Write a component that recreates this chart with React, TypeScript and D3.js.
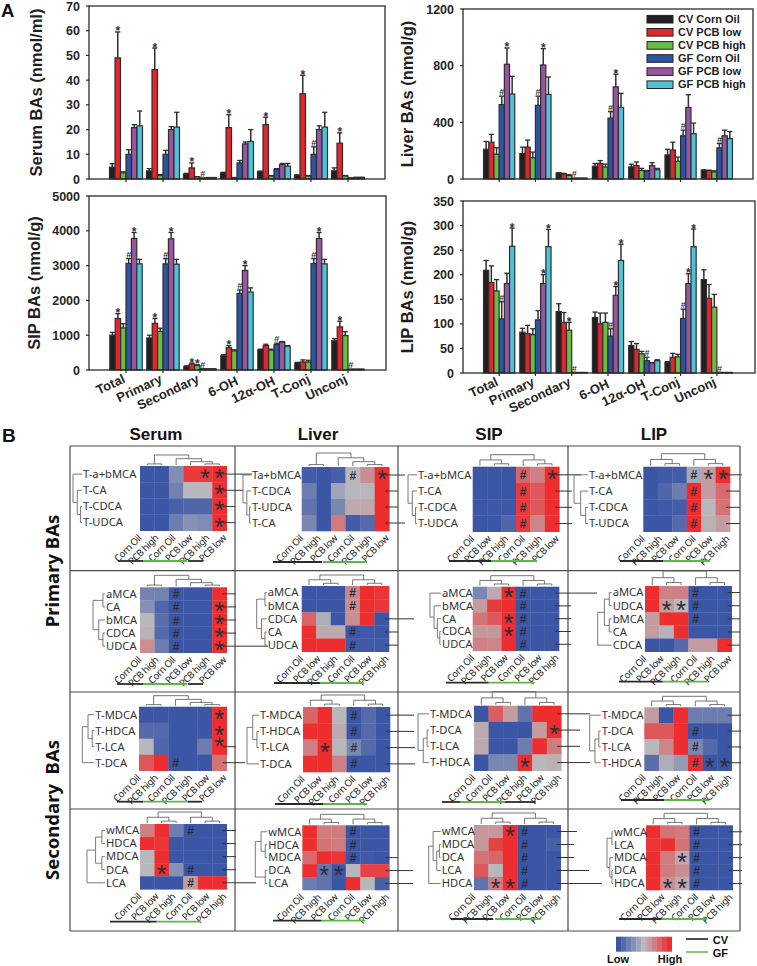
import React from "react";
import * as d3 from "d3";

const W = 757, H = 966;
const FONT = "'Liberation Sans', Arial, sans-serif";
const HEATFONT = "'Noto Sans', sans-serif";

// ---------- Panel A data ----------
const categories = ["Total", "Primary", "Secondary", "6-OH", "12α-OH", "T-Conj", "Unconj"];
const seriesNames = ["CV Corn Oil", "CV PCB low", "CV PCB high", "GF Corn Oil", "GF PCB low", "GF PCB high"];
const seriesColors = ["#231f20", "#e3262b", "#69bd45", "#2d55a5", "#97569f", "#4ec3d8"];

const serumValues = [[4.8,49,2.5,10,20.8,21.5],[3.3,44.3,1.4,10,20,21],[2,4.5,0.8,0.3,0.5,0.5],[2.5,20.8,0.5,6.5,14.2,15.2],[3,22,1.2,3.8,5.8,5.2],[1.5,34.5,1.2,10,20,21],[3.3,14.5,1.2,0.4,0.6,0.6]];
const serumTops = [[6.2,59.5,2.9,11.8,22,27.5],[4.2,53,1.8,11.6,21.2,27],[2.3,6.5,0.9,0.4,0.6,0.6],[2.7,26,0.6,7.5,15,20],[3.2,25,1.4,4.2,6.3,6.3],[1.7,42,1.4,13,21.5,27],[4.5,18.7,1.4,0.5,0.7,0.7]];
const serumMarks: [number,number,string][] = [[0,1,"*"],[1,1,"*"],[2,1,"*"],[3,1,"*"],[4,1,"*"],[5,1,"*"],[6,1,"*"],[2,3,"#"],[5,3,"#"]];

const liverValues = [[210,260,175,525,810,600],[180,225,150,520,805,597],[40,35,25,5,5,5],[90,110,85,430,650,505],[85,95,60,55,95,65],[170,205,125,305,505,320],[60,60,50,220,305,285]];
const liverTops = [[265,315,220,585,925,725],[225,275,190,585,920,720],[45,40,30,6,6,6],[110,130,105,475,740,605],[105,120,75,60,115,75],[210,260,155,345,595,395],[65,62,58,250,345,335]];
const liverMarks: [number,number,string][] = [[0,4,"*"],[1,4,"*"],[3,4,"*"],[0,3,"#"],[1,3,"#"],[2,3,"#"],[3,3,"#"],[5,3,"#"],[6,3,"#"]];

const sipValues = [[1000,1480,1210,3060,3780,3050],[920,1340,1110,3050,3770,3040],[100,170,130,30,30,30],[410,640,550,2200,2860,2240],[580,700,570,730,800,680],[200,230,230,3060,3780,3050],[840,1240,990,20,20,20]];
const sipTops = [[1080,1620,1330,3200,3950,3180],[1000,1480,1200,3200,3950,3180],[120,200,150,35,35,35],[440,700,580,2300,3000,2360],[600,740,600,770,820,700],[220,290,280,3200,3950,3180],[900,1400,1100,25,25,25]];
const sipMarks: [number,number,string][] = [[0,1,"*"],[1,1,"*"],[2,1,"*"],[2,2,"*"],[3,1,"*"],[0,4,"*"],[1,4,"*"],[3,4,"*"],[5,4,"*"],[6,1,"*"],[0,3,"#"],[1,3,"#"],[2,3,"#"],[3,3,"#"],[4,3,"#"],[5,3,"#"],[6,3,"#"]];

const lipValues = [[209,184,167,110,182,258],[83,80,78,108,182,257],[125,103,87,1,1,1],[113,100,103,75,158,229],[56,48,39,25,20,25],[22,32,33,111,182,257],[190,152,134,1,1,1]];
const lipTops = [[229,218,190,145,203,295],[91,97,90,127,200,292],[141,123,103,1,1,1],[124,122,122,90,176,262],[64,60,44,32,21,27],[23,40,38,130,202,293],[210,180,160,1,1,1]];
const lipMarks: [number,number,string][] = [[0,5,"*"],[1,4,"*"],[1,5,"*"],[2,2,"*"],[3,4,"*"],[3,5,"*"],[5,4,"*"],[5,5,"*"],[0,3,"#"],[2,3,"#"],[3,3,"#"],[4,3,"#"],[5,3,"#"],[6,3,"#"]];

const serumTicks = [0,10,20,30,40,50,60,70];
const liverTicks = [0,400,800,1200];
const sipTicks = [0,1000,2000,3000,4000,5000];
const lipTicks = [0,50,100,150,200,250,300,350];

// ---------- Panel B data ----------
const CO = "Corn Oil", PL = "PCB low", PH = "PCB high";
type Tree = number | Tree[];
type Mark = [number, number, string];

const h1Rows = ["T-a+bMCA","T-CA","T-CDCA","T-UDCA"];
const h1Cols = [CO,PH,CO,PL,PH,PL];
const h1Vals = [[0,0,.28,.95,.95,1],[0,0,.22,.5,.5,1],[0,0,.05,.08,.08,1],[0,0,.2,.3,.27,1]];
const h1Marks: Mark[] = [[0,4,"*"],[0,5,"*"],[1,5,"*"],[2,5,"*"],[3,5,"*"]];
const h2Rows = ["Ta+bMCA","T-CDCA","T-UDCA","T-CA"];
const h2Cols = [CO,PH,PL,CO,PH,PL];
const h2Vals = [[.03,0,.05,.5,.65,1],[.2,0,.4,.5,.5,1],[.15,0,.25,.55,.55,1],[.25,0,.72,.03,.1,1]];
const h2Marks: Mark[] = [[0,3,"#"],[0,5,"*"]];
const h3Rows = ["T-a+bMCA","T-CA","T-CDCA","T-UDCA"];
const h3Cols = [CO,PL,PH,CO,PH,PL];
const h3Vals = [[0,0,0,.8,.7,1],[0,0,0,.95,.85,1],[0,.01,.01,.95,.85,1],[0,0,.08,.95,.68,1]];
const h3Marks: Mark[] = [[0,3,"#"],[1,3,"#"],[2,3,"#"],[3,3,"#"],[0,5,"*"]];
const h4Rows = ["T-a+bMCA","T-CA","T-CDCA","T-UDCA"];
const h4Cols = [CO,PH,PL,CO,PL,PH];
const h4Vals = [[0,.02,.03,.42,.6,1],[0,.08,.2,1,.6,.78],[0,.02,.03,1,.5,.75],[0,0,.1,1,.53,.6]];
const h4Marks: Mark[] = [[0,3,"#"],[1,3,"#"],[2,3,"#"],[3,3,"#"],[0,4,"*"],[0,5,"*"]];

const h5Rows = ["aMCA","CA","bMCA","CDCA","UDCA"];
const h5Cols = [CO,PH,CO,PL,PH,PL];
const h5Vals = [[.22,.22,0,0,0,1],[.3,.08,0,0,0,1],[.5,.12,0,0,0,1],[.53,.1,0,0,0,1],[.65,.2,0,0,0,1]];
const h5Marks: Mark[] = [[0,2,"#"],[1,2,"#"],[2,2,"#"],[3,2,"#"],[4,2,"#"],[1,5,"*"],[2,5,"*"],[3,5,"*"],[4,5,"*"]];
const h6Rows = ["aMCA","bMCA","CDCA","CA","UDCA"];
const h6Cols = [CO,PL,PH,CO,PL,PH];
const h6Vals = [[0,0,0,.68,1,.97],[0,0,0,.65,1,.97],[.8,.45,0,.65,1,0],[1,.55,.55,0,.02,0],[1,1,1,.03,.02,.02]];
const h6Marks: Mark[] = [[0,3,"#"],[1,3,"#"],[3,3,"#"],[4,3,"#"]];
const h7Rows = ["aMCA","bMCA","CA","CDCA","UDCA"];
const h7Cols = [CO,PH,PL,CO,PL,PH];
const h7Vals = [[.25,.55,1,0,0,0],[.6,.95,1,0,0,0],[.75,.85,1,0,0,0],[.62,.62,1,0,0,0],[.7,.68,1,0,0,0]];
const h7Marks: Mark[] = [[0,2,"*"],[2,2,"*"],[3,2,"*"],[0,3,"#"],[1,3,"#"],[2,3,"#"],[3,3,"#"],[4,3,"#"]];
const h8Rows = ["aMCA","UDCA","bMCA","CA","CDCA"];
const h8Cols = [CO,PL,PH,CO,PH,PL];
const h8Vals = [[1,.7,.7,0,0,0],[1,.6,.5,0,0,0],[.6,1,1,0,0,0],[.6,.48,1,0,0,0],[0,0,.1,.6,.6,1]];
const h8Marks: Mark[] = [[1,1,"*"],[1,2,"*"],[0,3,"#"],[1,3,"#"],[2,3,"#"]];

const h9Rows = ["T-MDCA","T-HDCA","T-LCA","T-DCA"];
const h9Cols = [CO,PH,CO,PH,PL,PL];
const h9Vals = [[0,0,0,0,0,1],[.1,.1,0,0,0,1],[.5,.08,0,0,.2,1],[.85,1,0,0,0,.75]];
const h9Marks: Mark[] = [[0,5,"*"],[1,5,"*"],[1.7,5,"*"],[3,2,"#"]];
const h10Rows = ["T-MDCA","T-HDCA","T-LCA","T-DCA"];
const h10Cols = [CO,PL,PH,CO,PL,PH];
const h10Vals = [[.8,1,.5,0,.1,0],[1,1,.55,0,.1,0],[.7,1,.5,.25,.1,0],[1,1,.7,0,0,0]];
const h10Marks: Mark[] = [[2,1,"*"],[0,3,"#"],[1,3,"#"],[2,3,"#"],[3,3,"#"]];
const h11Rows = ["T-MDCA","T-DCA","T-LCA","T-HDCA"];
const h11Cols = [CO,CO,PL,PH,PL,PH];
const h11Vals = [[0,.82,.6,.15,1,1],[.55,0,0,0,.6,1],[.55,0,0,.2,1,.72],[0,.25,.25,1,.5,.53]];
const h11Marks: Mark[] = [[1,5,"*"],[3,3,"*"]];
const h12Rows = ["T-MDCA","T-DCA","T-LCA","T-HDCA"];
const h12Cols = [CO,PH,PL,CO,PL,PH];
const h12Vals = [[.6,0,1,.2,.2,.2],[.85,.85,1,0,0,0],[.5,.68,1,.25,.1,0],[.12,.45,.35,1,0,0]];
const h12Marks: Mark[] = [[1,3,"#"],[2,3,"#"],[3,3,"#"],[3,4,"*"],[3,5,"*"]];

const h13Rows = ["wMCA","HDCA","MDCA","DCA","LCA"];
const h13Cols = [CO,PL,PH,CO,PL,PH];
const h13Vals = [[.7,1,.2,0,0,0],[1,.97,0,0,0,0],[.5,1,0,0,0,0],[.5,1,.3,0,0,0],[0,0,0,.6,1,1]];
const h13Marks: Mark[] = [[0,3,"#"],[3,3,"#"],[4,3,"#"],[3,1,"*"]];
const h14Rows = ["wMCA","HDCA","MDCA","DCA","LCA"];
const h14Cols = [CO,PH,PL,CO,PL,PH];
const h14Vals = [[1,.72,.72,0,0,0],[1,.75,.72,0,0,0],[.78,1,.97,0,.02,0],[1,.15,0,.5,.92,.92],[.2,.15,0,1,.5,.05]];
const h14Marks: Mark[] = [[0,3,"#"],[1,3,"#"],[2,3,"#"],[3,1,"*"],[3,2,"*"]];
const h15Rows = ["wMCA","MDCA","DCA","LCA","HDCA"];
const h15Cols = [CO,PH,PL,CO,PL,PH];
const h15Vals = [[.62,.62,1,0,0,0],[.62,.92,1,0,0,.05],[.75,.8,1,0,0,0],[.85,.5,1,0,0,0],[.15,.72,1,0,0,0]];
const h15Marks: Mark[] = [[0,2,"*"],[4,1,"*"],[4,2,"*"],[0,3,"#"],[1,3,"#"],[2,3,"#"],[3,3,"#"],[4,3,"#"]];
const h16Rows = ["wMCA","LCA","MDCA","DCA","HDCA"];
const h16Cols = [CO,PL,PH,CO,PL,PH];
const h16Vals = [[1,.75,.72,0,0,0],[.97,1,.75,0,0,0],[1,.72,.55,0,0,0],[1,.72,.65,0,0,0],[1,.65,.55,0,0,0]];
const h16Marks: Mark[] = [[2,2,"*"],[4,1,"*"],[4,2,"*"],[0,3,"#"],[1,3,"#"],[2,3,"#"],[3,3,"#"],[4,3,"#"]];

const colTreeA: Tree = [[0,1],[2,[3,[4,5]]]];
const colTreeB: Tree = [[0,[1,2]],[3,[4,5]]];
const rowTree4: Tree = [0,[1,[2,3]]];
const rowTree5: Tree = [[0,1],[2,[3,4]]];
const rowTree5b: Tree = [[[0,1],[2,3]],4];

// layout: x0,x1,y0,y1 of the cell grid, label x, row-tree width, col tree height
type Lay = { x0:number;x1:number;y0:number;y1:number;lx:number;tw:number;ch:number;ends:(number|null)[];under:[number,number,string][];uy:number;rt:Tree;ct:Tree };
const BK = "#2a2a2a", GN = "#5cb648";
const heatLayouts: Lay[] = [
  {x0:140,x1:226.7,y0:466,y1:530.7,lx:83,tw:9,ch:10,ends:[252,243,235,235],under:[[118,143,BK],[143,187,GN],[188,203,BK]],uy:561,rt:rowTree4,ct:colTreeA},
  {x0:301.7,x1:389.3,y0:467,y1:531,lx:252,tw:8,ch:13,ends:[405,398,398,405],under:[[273,322,BK],[323,367,GN]],uy:562,rt:rowTree4,ct:colTreeA},
  {x0:472.7,x1:559.3,y0:466.7,y1:531.7,lx:418,tw:9,ch:11,ends:[581,572,572,572],under:[[449,491,BK],[491,537,GN]],uy:561,rt:rowTree4,ct:colTreeB},
  {x0:643.3,x1:730,y0:466.7,y1:531.7,lx:589,tw:14,ch:12,ends:[742,740,740,740],under:[[620,663,BK],[663,710,GN]],uy:561,rt:rowTree4,ct:colTreeB},

  {x0:140,x1:226.7,y0:587.3,y1:652.7,lx:106,tw:12,ch:11,ends:[236,236,236,236,268],under:[[117,143,BK],[143,187,GN],[188,203,BK]],uy:684,rt:rowTree5,ct:colTreeA},
  {x0:301.7,x1:389,y0:586,y1:651.7,lx:267.7,tw:10,ch:10,ends:[null,null,414,398,398],under:[[274,320,BK],[320,364,GN]],uy:683,rt:[[0,1],[2,[3,4]]],ct:colTreeB},
  {x0:472.7,x1:559,y0:586.7,y1:650.7,lx:442,tw:11,ch:10,ends:[597,571,571,571,571],under:[[446,488.7,BK],[488.7,534.7,GN]],uy:682.7,rt:[0,[1,[2,[3,4]]]],ct:colTreeB},
  {x0:645,x1:731.7,y0:586,y1:651.7,lx:612.7,tw:14,ch:14,ends:[740,740,740,740,740],under:[[619,662.7,BK],[662.7,708,GN]],uy:681.7,rt:rowTree5b,ct:colTreeB},

  {x0:139,x1:226.7,y0:706.7,y1:770.7,lx:95.3,tw:12,ch:10,ends:[null,null,236,245],under:[[117,143,BK],[143,188,GN],[188,202,BK]],uy:801.7,rt:[[0,[1,2]],3],ct:colTreeA},
  {x0:303,x1:390,y0:707,y1:772,lx:260,tw:12,ch:11,ends:[414,414,415,415],under:[[275,323,BK],[323,367,GN]],uy:804,rt:[[0,[1,2]],3],ct:colTreeB},
  {x0:474,x1:561.3,y0:705.7,y1:770.7,lx:430,tw:11,ch:13,ends:[590,580,580,590],under:[[442,460,BK],[460,505,GN],[505,535.7,BK]],uy:802,rt:[0,[[1,2],3]],ct:colTreeB},
  {x0:644.3,x1:731.7,y0:707.3,y1:770.7,lx:601.7,tw:11,ch:10,ends:[741,741,741,741],under:[[621,664,BK],[664,709.3,GN]],uy:800,rt:[0,[[1,2],3]],ct:colTreeB},

  {x0:140,x1:226.7,y0:824,y1:889.3,lx:106,tw:18,ch:11,ends:[236,236,236,236,256],under:[[110,156.7,BK],[156.7,200.7,GN]],uy:921.7,rt:[[[0,1],[2,3]],4],ct:colTreeB},
  {x0:302.3,x1:389.3,y0:825.3,y1:890,lx:268.3,tw:12,ch:10,ends:[null,null,398,413,413],under:[[273,321.7,BK],[321.7,365,GN]],uy:920.7,rt:[[0,[1,2]],[3,4]],ct:colTreeB},
  {x0:474,x1:560.7,y0:825,y1:890,lx:441.7,tw:12,ch:11,ends:[577,574,574,589,602],under:[[451,493.3,BK],[495,540.7,GN]],uy:919,rt:[[0,[[1,2],3]],4],ct:colTreeB},
  {x0:646,x1:732.7,y0:825.3,y1:890,lx:614,tw:6,ch:11,ends:[742,742,742,742,742],under:[[619,661.7,BK],[661.7,706.7,GN]],uy:919,rt:[[0,1],[2,[3,4]]],ct:colTreeB},
];
const heatRows = [h1Rows,h2Rows,h3Rows,h4Rows,h5Rows,h6Rows,h7Rows,h8Rows,h9Rows,h10Rows,h11Rows,h12Rows,h13Rows,h14Rows,h15Rows,h16Rows];
const heatCols = [h1Cols,h2Cols,h3Cols,h4Cols,h5Cols,h6Cols,h7Cols,h8Cols,h9Cols,h10Cols,h11Cols,h12Cols,h13Cols,h14Cols,h15Cols,h16Cols];
const heatVals = [h1Vals,h2Vals,h3Vals,h4Vals,h5Vals,h6Vals,h7Vals,h8Vals,h9Vals,h10Vals,h11Vals,h12Vals,h13Vals,h14Vals,h15Vals,h16Vals];
const heatMarks = [h1Marks,h2Marks,h3Marks,h4Marks,h5Marks,h6Marks,h7Marks,h8Marks,h9Marks,h10Marks,h11Marks,h12Marks,h13Marks,h14Marks,h15Marks,h16Marks];

const colTitles = ["Serum","Liver","SIP","LIP"];
const legendLevels = [0,.1,.2,.3,.4,.5,.6,.7,.8,.9,1];

const color = d3.scaleLinear<string>().domain([0,.5,1]).range(["#3c56a6","#b8b8bc","#ee2d2f"]);

// ---------- Bar panel ----------
function BarPanel(p:{title:string;titleX:number;titleSize:number;left:number;right:number;top:number;bottom:number;band0:number;band1:number;max:number;yTop:number;ticks:number[];values:number[][];tops:number[][];marks:[number,number,string][];showCats:boolean;barW:number}) {
  const y = d3.scaleLinear().domain([0,p.max]).range([p.bottom,p.yTop]);
  const xg = d3.scaleBand<string>().domain(categories).range([p.band0,p.band1]).paddingInner(0).paddingOuter(0);
  const xs = d3.scaleBand<string>().domain(seriesNames).range([-3*p.barW,3*p.barW]);
  const cx = (g:number,s:number)=> (xg(categories[g]) as number)+xg.bandwidth()/2+(xs(seriesNames[s]) as number)+xs.bandwidth()/2;
  return <g fontFamily={FONT}>
    {p.values.map((row,g)=>row.map((v,s)=>{
      const x=cx(g,s), t=y(p.tops[g][s]);
      return <g key={g+"-"+s}>
        <line x1={x} x2={x} y1={y(v)} y2={t} stroke="#2e2e2e" strokeWidth={1.5}/>
        <line x1={x-2.6} x2={x+2.6} y1={t} y2={t} stroke="#2e2e2e" strokeWidth={1.3}/>
        <rect x={x-xs.bandwidth()/2} width={xs.bandwidth()} y={y(v)} height={Math.max(0,p.bottom-y(v))} fill={seriesColors[s]} stroke="#2e2e2e" strokeWidth={1.2}/>
      </g>;
    }))}
    {p.marks.map(([g,s,m],i)=>
      <text key={i} x={cx(g,s)} y={y(p.tops[g][s])+(m==="*"?3.5:-1)} textAnchor="middle" fontSize={m==="*"?12:9} fontWeight="bold" fill="#333">{m}</text>)}
    <rect x={p.left} y={p.top} width={p.right-p.left} height={p.bottom-p.top} fill="none" stroke="#2b2b2b" strokeWidth={1.3}/>
    {p.ticks.map(t=><g key={t}>
      <line x1={p.left-3} x2={p.left} y1={y(t)} y2={y(t)} stroke="#2b2b2b" strokeWidth={1.2}/>
      <text x={p.left-9} y={y(t)+4.5} textAnchor="end" fontSize={12.5} fontWeight="bold" fill="#262626">{t}</text>
    </g>)}
    {categories.map((c,i)=>{
      const x=(xg(c) as number)+xg.bandwidth()/2;
      return <g key={c}>
        <line x1={x} x2={x} y1={p.bottom} y2={p.bottom+3} stroke="#2b2b2b" strokeWidth={1.2}/>
        {p.showCats&&<text transform={`translate(${x+(c==="6-OH"||c==="12α-OH"?2:0)},${p.bottom+(c==="6-OH"||c==="12α-OH"?14:12)}) rotate(-25)`} textAnchor="end" fontSize={13} fontWeight="bold" fill="#262626">{c}</text>}
      </g>;
    })}
    <text transform={`translate(${p.titleX},${(p.top+p.bottom)/2}) rotate(-90)`} textAnchor="middle" fontSize={p.titleSize} fontWeight="bold" fill="#1f1f1f">{p.title}</text>
  </g>;
}

// ---------- Dendrograms ----------
function dendro(tree:Tree, leafPos:(i:number)=>number, base:number, size:number, sign:number, horizontal:boolean) {
  const root = d3.hierarchy<any>(tree as any,(d:any)=>Array.isArray(d)?d:null);
  const rootH = root.height || 1;
  const lvl = d3.scalePow().exponent(1.6).domain([0,rootH]).range([0,size]);
  const pos = new Map<any,number>();
  root.eachAfter((n:any)=>{
    if(!n.children) pos.set(n,leafPos(n.data));
    else pos.set(n,d3.mean(n.children,(c:any)=>pos.get(c)) as number);
  });
  const pt=(a:number,b:number)=>horizontal?`${base+sign*b},${a}`:`${a},${base+sign*b}`;
  const segs:string[]=[];
  root.each((n:any)=>{
    if(!n.children) return;
    const l=lvl(n.height);
    const ps=n.children.map((c:any)=>pos.get(c));
    segs.push(`M${pt(Math.min(...ps),l)}L${pt(Math.max(...ps),l)}`);
    n.children.forEach((c:any)=>{segs.push(`M${pt(pos.get(c),l)}L${pt(pos.get(c),lvl(c.height))}`);});
  });
  return segs.join("");
}

function Heat({i}:{i:number}) {
  const L=heatLayouts[i], rows=heatRows[i], cols=heatCols[i], vals=heatVals[i], marks=heatMarks[i];
  const x=d3.scaleBand<number>().domain(d3.range(cols.length)).range([L.x0,L.x1]);
  const y=d3.scaleBand<number>().domain(d3.range(rows.length)).range([L.y0,L.y1]);
  const labelEnd=d3.scalePoint<number>().domain(d3.range(cols.length)).range([L.x0+2,L.x1]);
  const rc=(r:number)=>(L.y0+(r+.5)*y.bandwidth());
  const cc=(c:number)=>(L.x0+(c+.5)*x.bandwidth());
  return <g>
    <path d={dendro(L.rt,rc,L.lx-1,L.tw,-1,true)} fill="none" stroke="#6a6a6a" strokeWidth={.9}/>
    <path d={dendro(L.ct,cc,L.y0-1,L.ch,-1,false)} fill="none" stroke="#666" strokeWidth={.9}/>
    {vals.map((row,r)=>row.map((v,c)=>
      <rect key={r+"-"+c} x={x(c)} y={y(r)} width={x.bandwidth()+.3} height={y.bandwidth()+.3} fill={color(v)}/>))}
    {L.ends.map((e,r)=>e==null?null:
      <line key={r} x1={L.x1-4} x2={e} y1={rc(r)} y2={rc(r)} stroke="#333" strokeWidth={1}/>)}
    {rows.map((t,r)=><text key={t} x={L.lx} y={rc(r)+3.8} fontSize={11.2} fontFamily={HEATFONT} fill="#333">{t}</text>)}
    {cols.map((t,c)=><text key={c} transform={`translate(${labelEnd(c)},${L.y1+8}) rotate(-45)`} textAnchor="end" fontSize={9.6} letterSpacing={-0.4} fontFamily={HEATFONT} fill="#222">{t}</text>)}
    {marks.map(([r,c,m],k)=>m==="*"
      ? <text key={k} x={cc(c)} y={rc(r)+13} textAnchor="middle" fontSize={25} fontFamily={FONT} fill="#2c2c34">*</text>
      : <text key={k} x={cc(c)} y={rc(r)+4.5} textAnchor="middle" fontSize={12} fontWeight="bold" fontFamily={FONT} fill="#2c2c34">#</text>)}
    {L.under.map(([a,b,s],k)=><line key={k} x1={a} x2={b} y1={L.uy} y2={L.uy} stroke={s} strokeWidth={1.8}/>)}
  </g>;
}

export default function App() {
  const gridX=[70,235,398,568,740];
  const gridY=[446,570.7,692,809,931];
  const titleCx=[156,318,489,654];
  const legX=d3.scaleBand<number>().domain(d3.range(legendLevels.length)).range([616,671.7]);
  return <svg width={W} height={H} viewBox={`0 0 ${W} ${H}`} style={{position:"absolute",left:0,top:0,display:"block",background:"#fff"}}>
    <text x={1} y={17} fontFamily={FONT} fontWeight="bold" fontSize={18.5} fill="#111">A</text>
    <text x={2} y={442} fontFamily={FONT} fontWeight="bold" fontSize={19} fill="#111">B</text>

    <BarPanel title="Serum BAs (nmol/ml)" titleX={42} titleSize={16.5} left={89} right={385} top={6} bottom={179} band0={107.5} band1={366.5} max={70} yTop={6} ticks={serumTicks} values={serumValues} tops={serumTops} marks={serumMarks} showCats={false} barW={5.5}/>
    <BarPanel title="Liver BAs (nmol/g)" titleX={413} titleSize={16.5} left={463} right={753} top={9} bottom={179} band0={481} band1={735} max={1200} yTop={9} ticks={liverTicks} values={liverValues} tops={liverTops} marks={liverMarks} showCats={false} barW={5.2}/>
    <BarPanel title="SIP BAs (nmol/g)" titleX={40} titleSize={16.5} left={89} right={386} top={196} bottom={370} band0={107.5} band1={366.5} max={5000} yTop={196} ticks={sipTicks} values={sipValues} tops={sipTops} marks={sipMarks} showCats={true} barW={5.4}/>
    <BarPanel title="LIP BAs (nmol/g)" titleX={413} titleSize={16.5} left={463} right={755} top={201} bottom={373} band0={481} band1={735} max={350} yTop={201} ticks={lipTicks} values={lipValues} tops={lipTops} marks={lipMarks} showCats={true} barW={5.2}/>

    <g fontFamily={FONT}>
      {seriesNames.map((s,i)=>{
        const yy=19+i*13.1;
        return <g key={s}>
          <rect x={647} y={yy-3.6} width={26} height={7.6} fill={seriesColors[i]} stroke="#222" strokeWidth={1}/>
          <text x={678} y={yy+3.8} fontSize={11} fontWeight="bold" fill="#222">{s}</text>
        </g>;
      })}
    </g>

    {gridX.map(x=><line key={x} x1={x} x2={x} y1={gridY[0]} y2={gridY[4]} stroke="#4a4a4a" strokeWidth={1.2}/>)}
    {gridY.map(y=><line key={y} x1={gridX[0]} x2={gridX[4]} y1={y} y2={y} stroke="#4a4a4a" strokeWidth={1.2}/>)}
    {colTitles.map((t,i)=><text key={t} x={titleCx[i]} y={440} textAnchor="middle" fontFamily={FONT} fontWeight="bold" fontSize={17} fill="#111">{t}</text>)}
    <text transform="translate(59,571) rotate(-90)" textAnchor="middle" fontFamily={HEATFONT} fontWeight="bold" fontSize={18.5} fill="#111">Primary BAs</text>
    <text transform="translate(59,810) rotate(-90)" textAnchor="middle" fontFamily={HEATFONT} fontWeight="bold" fontSize={18.5} fill="#111" xmlSpace="preserve">Secondary  BAs</text>

    {heatLayouts.map((_,i)=><Heat key={i} i={i}/>)}

    {legendLevels.map((v,i)=><rect key={i} x={legX(i)} y={936.7} width={legX.bandwidth()+.3} height={15} fill={color(v)}/>)}
    <g fontFamily={FONT} fontWeight="bold" fontSize={11} fill="#111">
      <text x={607} y={963}>Low</text>
      <text x={657.7} y={963}>High</text>
      <line x1={686} x2={708} y1={939} y2={939} stroke="#111" strokeWidth={1.5}/>
      <text x={712.7} y={944}>CV</text>
      <line x1={686} x2={708} y1={952} y2={952} stroke={GN} strokeWidth={1.5}/>
      <text x={712.7} y={957}>GF</text>
    </g>
  </svg>;
}
